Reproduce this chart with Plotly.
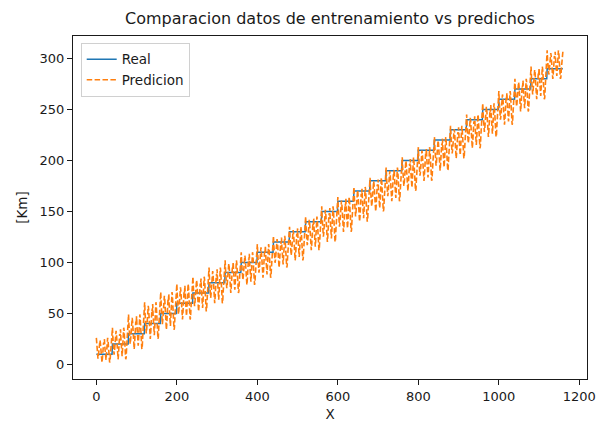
import plotly.graph_objects as go

# Real distance levels (km), one per block of samples
levels = [10, 20, 30, 40, 50, 60, 70, 80, 90, 100, 110, 120, 130, 140, 150,
          160, 170, 180, 190, 200, 210, 220, 230, 240, 250, 260, 270, 280, 290]

# Prediction envelope per block (offset from the real level)
pred_low_off = [-8, -15, -15, -15, -16, -16, -18, -20, -20, -22, -25, -25, -28, -28, -30,
                -30, -30, -30, -30, -30, -30, -30, -28, -28, -27, -25, -22, -20, -10]
pred_high_off = [16, 16, 19, 21, 21, 19, 16, 15, 12, 10, 8, 6, 5, 5, 5,
                 4, 4, 3, 3, 3, 3, 3, 4, 5, 6, 8, 10, 12, 18]
# within-block position of each predicted sample inside the envelope (0 = low, 1 = high)
pred_pattern = [1.0, 0.7, 0.4, 0.2, 0.15, 0.25, 0.45, 0.7, 0.85, 0.9,
                0.8, 0.5, 0.2, 0.02, 0.0, 0.15, 0.45, 0.7, 0.8, 0.75,
                0.95, 0.65, 0.35, 0.15, 0.1, 0.3, 0.6, 0.85, 1.0, 0.9,
                0.7, 0.4, 0.1, 0.0, 0.05, 0.3, 0.55, 0.75, 0.85, 0.95]

x_ticks = [0, 200, 400, 600, 800, 1000, 1200]
y_ticks = [0, 50, 100, 150, 200, 250, 300]

real = []
pred = []
for lv, lo, hi in zip(levels, pred_low_off, pred_high_off):
    for f in pred_pattern:
        real.append(lv)
        pred.append(lv + lo + f * (hi - lo))
x = list(range(len(real)))

font = "DejaVu Sans"
ink = "#1a1a1a"
fig = go.Figure()
fig.add_trace(go.Scatter(x=x, y=real, mode="lines", name="Real",
                         line=dict(color="#1f77b4", width=1.5)))
fig.add_trace(go.Scatter(x=x, y=pred, mode="lines", name="Predicion",
                         line=dict(color="#ff7f0e", width=1.6, dash="5.5px,2.4px")))

fig.update_layout(
    width=606, height=429,
    margin=dict(l=73, r=10, t=36, b=47),
    paper_bgcolor="white", plot_bgcolor="white",
    font=dict(family=font, size=13, color=ink),
    title=dict(text="Comparacion datos de entrenamiento vs predichos",
               x=0.5, xref="paper", y=1 - 18 / 429, yref="container",
               xanchor="center", yanchor="middle",
               font=dict(family=font, size=16, color=ink)),
    legend=dict(x=0.015, y=0.98, xanchor="left", yanchor="top",
                bgcolor="rgba(255,255,255,0.8)", bordercolor="#d0d0d0",
                borderwidth=1, font=dict(size=13.5), tracegroupgap=4),
    showlegend=True,
)
fig.update_xaxes(range=[-58, 1219], tickvals=x_ticks, ticks="outside", ticklen=5,
                 tickcolor=ink, showline=True, linecolor=ink, linewidth=1,
                 mirror=True, showgrid=False, zeroline=False,
                 title=dict(text="X", standoff=6, font=dict(size=13.5)))
fig.update_yaxes(range=[-14.3, 322], tickvals=y_ticks, ticks="outside", ticklen=5,
                 tickcolor=ink, showline=True, linecolor=ink, linewidth=1,
                 mirror=True, showgrid=False, zeroline=False,
                 title=dict(text="[Km]", standoff=8, font=dict(size=13.5)))

fig.write_html("out.html")
